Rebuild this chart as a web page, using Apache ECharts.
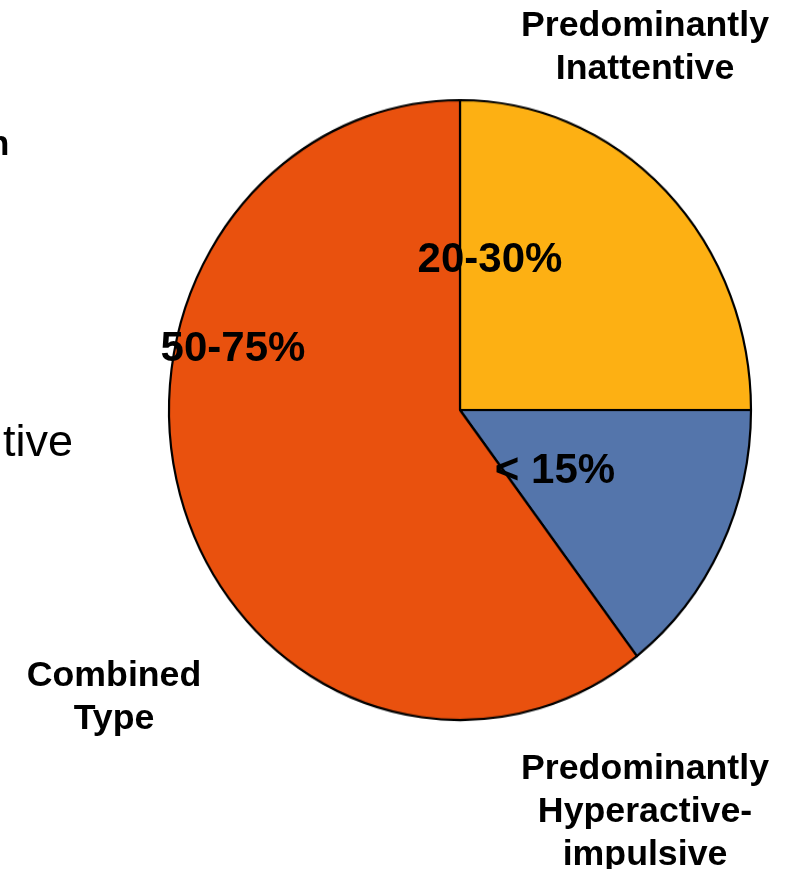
<!DOCTYPE html>
<html>
<head>
<meta charset="utf-8">
<script src="https://cdn.jsdelivr.net/npm/echarts@6/dist/echarts.min.js"></script>
<style>
  html, body { margin: 0; padding: 0; background: #fff; }
  #wrap { position: relative; width: 794px; height: 869px; overflow: hidden; }
  #pie, #text { position: absolute; left: 0; top: 0; width: 794px; height: 869px; }
  /* the pie is drawn slightly taller than wide */
  #pie { transform: scaleY(1.065); transform-origin: 0 410px; }
</style>
</head>
<body>
<div id="wrap">
  <div id="pie"></div>
  <div id="text"></div>
</div>
<script>
// ADHD presentation subtypes: share of cases
const subtypes = ['Predominantly\nInattentive', 'Predominantly\nHyperactive-\nimpulsive', 'Combined\nType'];
const shares = [25, 14.6, 60.4];
const rangeLabels = ['20-30%', '< 15%', '50-75%'];
const sliceColors = ['#FDB013', '#5475AB', '#E9510E'];

const pie = echarts.init(document.getElementById('pie'), null, { renderer: 'canvas' });
pie.setOption({
  animation: false,
  series: [{
    type: 'pie',
    center: [460, 410],
    radius: 291,
    startAngle: 90,
    clockwise: true,
    label: { show: false },
    labelLine: { show: false },
    emphasis: { disabled: true },
    itemStyle: { borderColor: '#000', borderWidth: 2.2 },
    data: subtypes.map((name, i) => ({ name, value: shares[i], itemStyle: { color: sliceColors[i] } }))
  }]
});

// Text layer: slice percentages, subtype names and clipped side captions
const pctPos = [[490, 260], [555, 471], [233, 349]];
const namePos = [[645, 48], [645, 812], [114, 698]];
const font = 'Liberation Sans, Arial, sans-serif';

const texts = [];
rangeLabels.forEach((t, i) => texts.push({
  type: 'text', x: pctPos[i][0], y: pctPos[i][1], scaleX: 1.0,
  style: { text: t, font: 'bold 42px ' + font, fill: '#000', align: 'center', verticalAlign: 'middle' }
}));
subtypes.forEach((t, i) => texts.push({
  type: 'text', x: namePos[i][0], y: namePos[i][1], scaleX: 1.02,
  style: { text: t, font: 'bold 35px ' + font, fill: '#000', align: 'center', verticalAlign: 'middle', lineHeight: 43 }
}));
texts.push({ type: 'text', x: -12, y: 145,
  style: { text: 'n', font: 'bold 35px ' + font, fill: '#000', align: 'left', verticalAlign: 'middle' } });
texts.push({ type: 'text', x: 3, y: 444,
  style: { text: 'tive', font: '45px ' + font, fill: '#000', align: 'left', verticalAlign: 'middle' } });

const overlay = echarts.init(document.getElementById('text'), null, { renderer: 'canvas' });
overlay.setOption({ animation: false, graphic: texts });
</script>
</body>
</html>
